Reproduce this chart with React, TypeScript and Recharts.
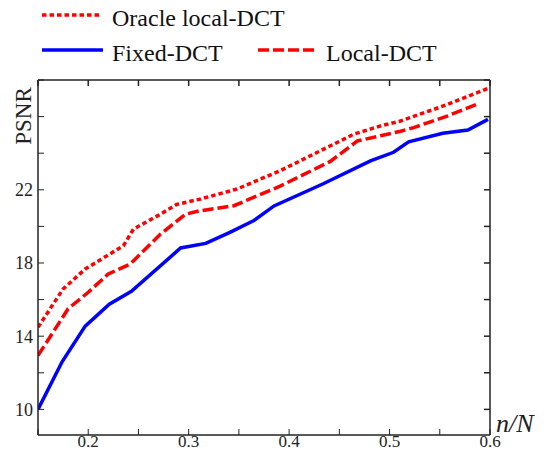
import { LineChart, Line, XAxis, YAxis, Legend, Label } from 'recharts';

// n/N and PSNR values
const fixedX = [0.15, 0.174, 0.197, 0.221, 0.243, 0.292, 0.317, 0.34, 0.365, 0.385, 0.434, 0.481, 0.504, 0.519, 0.553, 0.578, 0.598];
const fixedY = [10.0, 12.6, 14.55, 15.75, 16.45, 18.82, 19.07, 19.65, 20.32, 21.12, 22.33, 23.58, 24.05, 24.62, 25.09, 25.27, 25.85];

const localX = [0.15, 0.18, 0.2, 0.22, 0.242, 0.272, 0.297, 0.311, 0.345, 0.361, 0.391, 0.441, 0.468, 0.491, 0.511, 0.524, 0.558, 0.588];
const localY = [12.94, 15.5, 16.4, 17.4, 17.95, 19.58, 20.67, 20.85, 21.13, 21.5, 22.2, 23.55, 24.67, 24.95, 25.2, 25.4, 26.04, 26.7];

const oracleX = [0.15, 0.175, 0.197, 0.235, 0.245, 0.272, 0.288, 0.312, 0.348, 0.391, 0.4645, 0.491, 0.511, 0.551, 0.6];
const oracleY = [14.49, 16.58, 17.67, 18.94, 19.85, 20.67, 21.2, 21.5, 22.04, 23.04, 25.04, 25.49, 25.76, 26.53, 27.58];

const xTicks = [0.15, 0.2, 0.25, 0.3, 0.35, 0.4, 0.45, 0.5, 0.55, 0.6];
const xLabels = [0.2, 0.3, 0.4, 0.5, 0.6];
const yTicks = [10, 12, 14, 16, 18, 20, 22, 24, 26, 28];
const yLabels = [10, 14, 18, 22];

const zip = (xs: number[], ys: number[]) => xs.map((x, i) => ({ x, y: ys[i] }));
const fixedData = zip(fixedX, fixedY);
const localData = zip(localX, localY);
const oracleData = zip(oracleX, oracleY);

const FONT = '"Liberation Serif", serif';
const AXIS = '#222';
const X_DOMAIN: [number, number] = [0.15, 0.6];
const Y_DOMAIN: [number, number] = [8.6, 28];

function LegendBox() {
  return (
    <svg width={554} height={72} style={{ display: 'block' }}>
      <line x1={42} x2={102} y1={15} y2={15} stroke="#ff0000" strokeWidth={3.5} strokeDasharray="4.5 3" />
      <text x={112} y={26} fontFamily={FONT} fontSize={24} fill="#111">Oracle  local-DCT</text>
      <line x1={42} x2={103} y1={50} y2={50} stroke="#0000ff" strokeWidth={3.5} />
      <text x={112} y={61} fontFamily={FONT} fontSize={24} fill="#111">Fixed-DCT</text>
      <line x1={258} x2={318} y1={50} y2={50} stroke="#ff0000" strokeWidth={3.5} strokeDasharray="11 4" />
      <text x={326} y={61} fontFamily={FONT} fontSize={24} fill="#111">Local-DCT</text>
    </svg>
  );
}

const noLabel = () => '';

export default function App() {
  return (
    <div style={{ position: 'fixed', left: 0, top: 0, width: 554, height: 452, background: '#fff' }}>
      <LineChart width={554} height={452} margin={{ top: 80, right: 64, bottom: 0, left: 8 }}>
        <Legend
          verticalAlign="middle"
          align="center"
          layout="horizontal"
          content={() => <LegendBox />}
          wrapperStyle={{ top: 0, left: 0, width: 554, height: 72 }}
        />
        {/* bottom axis: line + labels */}
        <XAxis
          xAxisId="bottom"
          dataKey="x"
          type="number"
          domain={X_DOMAIN}
          ticks={xTicks}
          allowDataOverflow
          height={17}
          tickLine={false}
          tickSize={0}
          tickMargin={0}
          tickFormatter={(v: number) => (xLabels.some(l => Math.abs(l - v) < 1e-6) ? String(v) : '')}
          tick={{ fontFamily: FONT, fontSize: 17, fill: '#222' }}
          stroke={AXIS}
          strokeWidth={1.5}
        >
          <Label
            content={() => (
              <text x={496} y={432} fontFamily={FONT} fontSize={26} fontStyle="italic" fill="#222">n/N</text>
            )}
          />
        </XAxis>
        {/* bottom inward ticks */}
        <XAxis
          xAxisId="bottomTicks"
          dataKey="x"
          type="number"
          domain={X_DOMAIN}
          ticks={xTicks}
          allowDataOverflow
          mirror
          axisLine={false}
          tickSize={6}
          tickFormatter={noLabel}
          stroke={AXIS}
        />
        {/* top frame with inward ticks */}
        <XAxis
          xAxisId="top"
          orientation="top"
          dataKey="x"
          type="number"
          domain={X_DOMAIN}
          ticks={xTicks}
          allowDataOverflow
          mirror
          tickSize={6}
          tickFormatter={noLabel}
          stroke={AXIS}
          strokeWidth={1.5}
        />
        {/* left axis: line + labels */}
        <YAxis
          yAxisId="left"
          type="number"
          domain={Y_DOMAIN}
          ticks={yTicks}
          allowDataOverflow
          width={30}
          tickLine={false}
          tickSize={0}
          tickMargin={5}
          tickFormatter={(v: number) => (yLabels.includes(v) ? String(v) : '')}
          tick={{ fontFamily: FONT, fontSize: 18, fill: '#222' }}
          stroke={AXIS}
          strokeWidth={1.5}
        >
          <Label
            content={() => (
              <text x={31} y={116} transform="rotate(-90 31 116)" textAnchor="middle" fontFamily={FONT} fontSize={23} fill="#222">PSNR</text>
            )}
          />
        </YAxis>
        {/* left inward ticks */}
        <YAxis
          yAxisId="leftTicks"
          type="number"
          domain={Y_DOMAIN}
          ticks={yTicks}
          allowDataOverflow
          mirror
          axisLine={false}
          tickSize={6}
          tickFormatter={noLabel}
          stroke={AXIS}
        />
        {/* right frame with inward ticks */}
        <YAxis
          yAxisId="right"
          orientation="right"
          type="number"
          domain={Y_DOMAIN}
          ticks={yTicks}
          allowDataOverflow
          mirror
          tickSize={6}
          tickFormatter={noLabel}
          stroke={AXIS}
          strokeWidth={1.5}
        />
        <Line
          xAxisId="bottom"
          yAxisId="left"
          data={oracleData}
          dataKey="y"
          stroke="#ff0000"
          strokeWidth={3.5}
          strokeDasharray="4.5 3"
          dot={false}
          isAnimationActive={false}
        />
        <Line
          xAxisId="bottom"
          yAxisId="left"
          data={fixedData}
          dataKey="y"
          stroke="#0000ff"
          strokeWidth={3.5}
          dot={false}
          isAnimationActive={false}
        />
        <Line
          xAxisId="bottom"
          yAxisId="left"
          data={localData}
          dataKey="y"
          stroke="#ff0000"
          strokeWidth={3.5}
          strokeDasharray="11 4"
          dot={false}
          isAnimationActive={false}
        />
      </LineChart>
    </div>
  );
}
